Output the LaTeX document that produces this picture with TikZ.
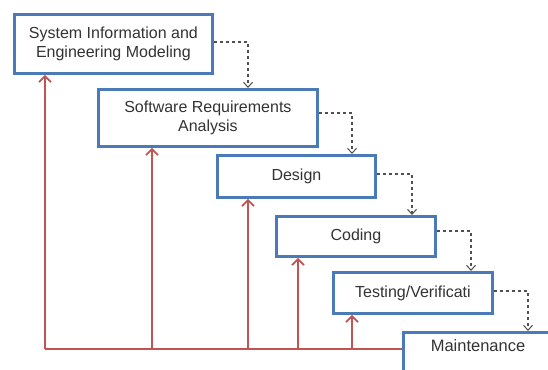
\documentclass[tikz,border=0pt]{standalone}
\usepackage{fontspec}
\setmainfont{Liberation Sans}
\usetikzlibrary{arrows.meta}
\definecolor{boxblue}{RGB}{74,122,184}
\definecolor{linered}{RGB}{192,84,82}
\definecolor{dashgray}{RGB}{80,80,80}
\tikzset{
  phase/.style={draw=boxblue, line width=2.8pt, fill=white, anchor=north west,
    inner sep=0pt, align=center, font=\fontsize{16}{18.5}\selectfont, text=black!80},
  flowlink/.style={draw=dashgray, line width=1.1pt, dash pattern=on 3pt off 3pt,
    -{Straight Barb[length=5pt,width=9pt,line width=1pt]}},
  backlink/.style={draw=linered, line width=2pt,
    -{Straight Barb[length=6pt,width=12pt,line width=1.8pt]}},
  baseline/.style={draw=linered, line width=2pt},
  lbl/.style={font=\fontsize{16.5}{18}\selectfont, text=black!80}
}
\begin{document}
\begin{tikzpicture}[x=1pt,y=-1pt]
\useasboundingbox (0,0) rectangle (548,369);
\clip (0,0) rectangle (548,369);
\fill[white] (0,0) rectangle (548,369);
% boxes
\node[phase, minimum width=198, minimum height=59] (sys) at (13,13)
  {System Information and\\Engineering Modeling};
\node[phase, minimum width=219, minimum height=57] (req) at (97,88)
  {Software Requirements\\Analysis};
\node[phase, minimum width=158, minimum height=42] (des) at (216,154) {Design};
\node[phase, minimum width=159, minimum height=40] (cod) at (275,215) {Coding};
\node[phase, minimum width=159, minimum height=41] (tst) at (332,271) {Testing/Verificati};
\node[phase, minimum width=152, minimum height=50] (mnt) at (402,331) {};
\node[lbl] (mntlbl) at (478,346) {Maintenance};
% dashed flow connectors
\coordinate (c1) at (248,42);
\coordinate (c2) at (352,113);
\coordinate (c3) at (412,174);
\coordinate (c4) at (471,231);
\coordinate (c5) at (528,291);
\draw[flowlink] (sys.east |- c1) -- (c1) -- (c1 |- req.north);
\draw[flowlink] (req.east |- c2) -- (c2) -- (c2 |- des.north);
\draw[flowlink] (des.east |- c3) -- (c3) -- (c3 |- cod.north);
\draw[flowlink] (cod.east |- c4) -- (c4) -- (c4 |- tst.north);
\draw[flowlink] (tst.east |- c5) -- (c5) -- (c5 |- mnt.north);
% red feedback lines
\coordinate (b0) at (45,349);
\coordinate (b1) at (152,349);
\coordinate (b2) at (248,349);
\coordinate (b3) at (298,349);
\coordinate (b4) at (352,349);
\draw[baseline] (b0) -- (mnt.west |- b0);
\draw[backlink] (b0) -- (b0 |- sys.south);
\draw[backlink] (b1) -- (b1 |- req.south);
\draw[backlink] (b2) -- (b2 |- des.south);
\draw[backlink] (b3) -- (b3 |- cod.south);
\draw[backlink] (b4) -- (b4 |- tst.south);
\end{tikzpicture}
\end{document}
